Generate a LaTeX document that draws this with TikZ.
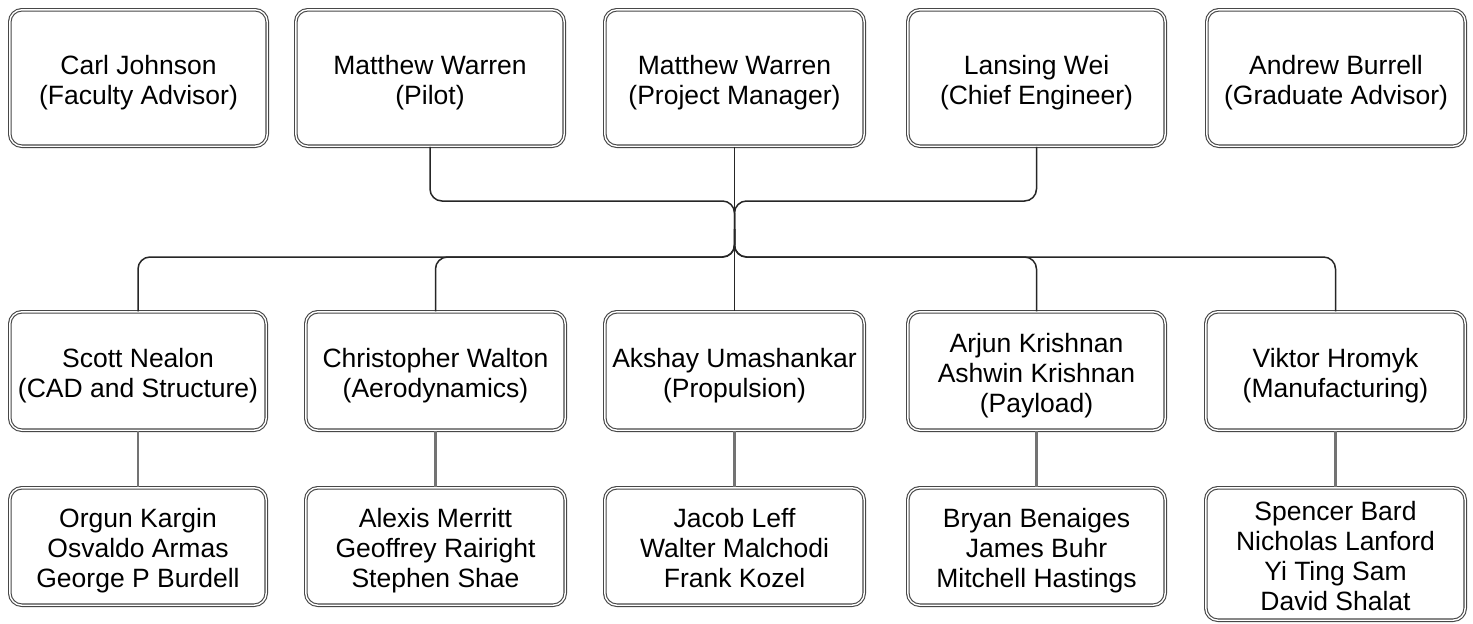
\documentclass[tikz,border=0pt]{standalone}
\usepackage{fontspec}
\setmainfont{Liberation Sans}
\begin{document}
\begin{tikzpicture}[x=1pt,y=-1pt,
  box/.style={draw=black!72, double=white, double distance=1.4pt, line width=1.1pt,
    rounded corners=12pt, align=center, inner sep=0pt, fill=white,
    font=\fontsize{26.5}{30}\selectfont},
  tree/.style={draw=black!85, line width=1.5pt, rounded corners=12pt},
  sub/.style={draw=black!55, line width=2.4pt}]
\useasboundingbox[fill=white] (0,0) rectangle (1473,624);

% a rounded double-lined box given by its outer edges: name, left, top, right, bottom, text
% (the struts give every text block the same top and bottom allowance)
\newcommand\orgbox[6]{%
  \pgfmathsetmacro\bw{#4-#2-3.6}%
  \pgfmathsetmacro\bh{#5-#3-3.6}%
  \node[box, minimum width=\bw pt, minimum height=\bh pt] (#1) at ({(#2+#4)/2},{(#3+#5)/2})
    {\rule{0pt}{28pt}#6\rule[-6pt]{0pt}{1pt}};}

% leadership row
\orgbox{fac}{8}{8}{269}{148}{Carl Johnson\\(Faculty Advisor)}
\orgbox{pilot}{294}{8}{566}{148}{Matthew Warren\\(Pilot)}
\orgbox{pm}{603}{8}{866}{148}{Matthew Warren\\(Project Manager)}
\orgbox{chief}{906}{8}{1167}{148}{Lansing Wei\\(Chief Engineer)}
\orgbox{grad}{1205}{8}{1467}{148}{Andrew Burrell\\(Graduate Advisor)}

% sub-team leads
\orgbox{cad}{8}{310}{268}{432}{Scott Nealon\\(CAD and Structure)}
\orgbox{aero}{304}{310}{567}{432}{Christopher Walton\\(Aerodynamics)}
\orgbox{prop}{603}{310}{866}{432}{Akshay Umashankar\\(Propulsion)}
\orgbox{pay}{906}{310}{1167}{432}{Arjun Krishnan\\Ashwin Krishnan\\(Payload)}
\orgbox{mfg}{1204}{310}{1467}{432}{Viktor Hromyk\\(Manufacturing)}

% sub-team members
\orgbox{cadm}{8}{486}{268}{607}{Orgun Kargin\\Osvaldo Armas\\George P Burdell}
\orgbox{aerom}{304}{486}{567}{607}{Alexis Merritt\\Geoffrey Rairight\\Stephen Shae}
\orgbox{propm}{603}{486}{866}{607}{Jacob Leff\\Walter Malchodi\\Frank Kozel}
\orgbox{paym}{906}{486}{1167}{607}{Bryan Benaiges\\James Buhr\\Mitchell Hastings}
\orgbox{mfgm}{1204}{486}{1467}{622}{Spencer Bard\\Nicholas Lanford\\Yi Ting Sam\\David Shalat}

% reporting lines
\coordinate (upper) at (0,201);
\coordinate (lower) at (0,257);
\coordinate (hub) at (734.5,229);
\draw[tree] (pm.south) -- (prop.north);
\draw[tree] (pilot.south) |- (hub |- upper) -- (hub);
\draw[tree] (chief.south) |- (hub |- upper) -- (hub);
\foreach \n in {cad,aero,pay,mfg}
  \draw[tree] (hub) -- (hub |- lower) -| (\n.north);

\draw[sub] (cad.south) -- (cadm.north);
\draw[sub] (aero.south) -- (aerom.north);
\draw[sub] (prop.south) -- (propm.north);
\draw[sub] (pay.south) -- (paym.north);
\draw[sub] (mfg.south) -- (mfgm.north);
\end{tikzpicture}
\end{document}
